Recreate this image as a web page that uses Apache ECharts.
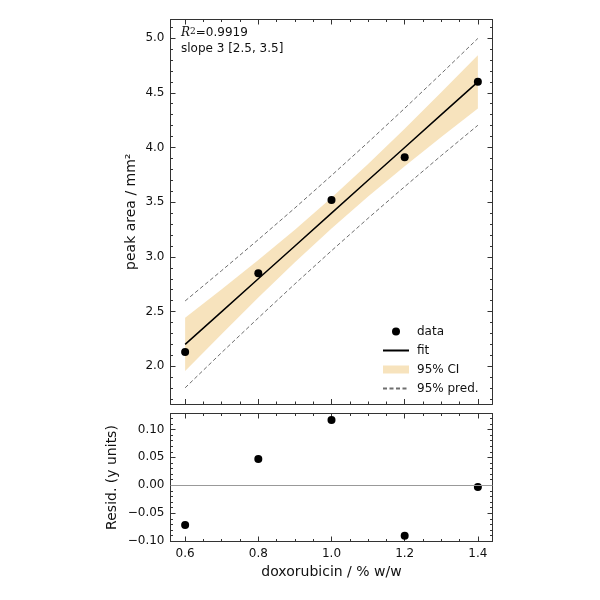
<!DOCTYPE html>
<html>
<head>
<meta charset="utf-8">
<script src="https://cdn.jsdelivr.net/npm/echarts@6/dist/echarts.min.js"></script>
<style>
  html, body { margin: 0; padding: 0; background: #fff; }
  #chart { width: 600px; height: 600px; }
</style>
</head>
<body>
<div id="chart"></div>
<script>
// calibration data
const conc = [0.6, 0.8, 1.0, 1.2, 1.4];
const peakArea = [2.13, 2.85, 3.52, 3.91, 4.60];
const resid = [-0.071, 0.047, 0.117, -0.090, -0.003];

// fit line and bands, sampled at these x values
const bandX = [0.6, 0.7, 0.8, 0.9, 1.0, 1.1, 1.2, 1.3, 1.4];
const fitY = [2.2, 2.5, 2.8, 3.1, 3.4, 3.7, 4.0, 4.3, 4.6];
const ciLow = [1.957, 2.296, 2.628, 2.951, 3.260, 3.551, 3.828, 4.096, 4.357];
const ciHigh = [2.443, 2.705, 2.972, 3.249, 3.540, 3.849, 4.172, 4.505, 4.843];
const predLow = [1.803, 2.126, 2.442, 2.753, 3.056, 3.353, 3.642, 3.926, 4.203];
const predHigh = [2.597, 2.875, 3.158, 3.447, 3.744, 4.047, 4.358, 4.675, 4.997];

// ticks
const xMajor = [0.6, 0.8, 1.0, 1.2, 1.4];
const xMinor = [0.65, 0.7, 0.75, 0.85, 0.9, 0.95, 1.05, 1.1, 1.15, 1.25, 1.3, 1.35];
const yTopMajor = [2.0, 2.5, 3.0, 3.5, 4.0, 4.5, 5.0];
const yTopMinor = [1.7, 1.8, 1.9, 2.1, 2.2, 2.3, 2.4, 2.6, 2.7, 2.8, 2.9, 3.1, 3.2, 3.3, 3.4,
  3.6, 3.7, 3.8, 3.9, 4.1, 4.2, 4.3, 4.4, 4.6, 4.7, 4.8, 4.9, 5.1];
const yResMajor = [-0.10, -0.05, 0.00, 0.05, 0.10];
const yResMinor = [-0.09, -0.08, -0.07, -0.06, -0.04, -0.03, -0.02, -0.01,
  0.01, 0.02, 0.03, 0.04, 0.06, 0.07, 0.08, 0.09, 0.11, 0.12];

const FONT = 'DejaVu Sans';
const INK = '#111';
const SPINE = '#333';
const BAND = '#f7e3bd';
const DASH = '#6e6e6e';

const xRange = [0.56, 1.44];
const yTopRange = [1.655, 5.17];
const yResRange = [-0.1004, 0.1284];

const fmt = (d) => (v) => v.toFixed(d).replace('-', '\u2212');

// one axis = 4 echarts axes: major/minor ticks on both sides
function makeAxes(kind, gridIndex, range, major, minor, opts) {
  const sides = kind === 'x' ? ['bottom', 'top'] : ['left', 'right'];
  const out = [];
  sides.forEach((pos, i) => {
    const main = i === 0;
    out.push({
      type: 'value', gridIndex, position: pos,
      min: range[0], max: range[1],
      name: main ? opts.name : '',
      nameLocation: 'middle',
      nameGap: opts.nameGap,
      nameMoveOverlap: false,
      nameTextStyle: { fontFamily: FONT, fontSize: 14, color: INK },
      axisLine: { show: true, onZero: false, lineStyle: { color: SPINE, width: 1 } },
      axisTick: { show: true, inside: true, length: 5, customValues: major, lineStyle: { color: SPINE, width: 1 } },
      axisLabel: {
        show: main && opts.labels, customValues: major, formatter: fmt(opts.digits),
        fontFamily: FONT, fontSize: 12, color: INK, margin: 6
      },
      splitLine: { show: false }
    });
  });
  sides.forEach((pos) => {
    out.push({
      type: 'value', gridIndex, position: pos,
      min: range[0], max: range[1],
      axisLine: { show: false, onZero: false },
      axisTick: { show: true, inside: true, length: 2.5, customValues: minor, lineStyle: { color: SPINE, width: 1 } },
      axisLabel: { show: false, customValues: minor },
      splitLine: { show: false }
    });
  });
  return out;
}

const xAxes = [].concat(
  makeAxes('x', 0, xRange, xMajor, xMinor, { labels: false, digits: 1 }),
  makeAxes('x', 1, xRange, xMajor, xMinor, { labels: true, digits: 1, name: 'doxorubicin / % w/w', nameGap: 24 })
);
const yAxes = [].concat(
  makeAxes('y', 0, yTopRange, yTopMajor, yTopMinor, { labels: true, digits: 1, name: 'peak area / mm\u00b2', nameGap: 32 }),
  makeAxes('y', 1, yResRange, yResMajor, yResMinor, { labels: true, digits: 2, name: 'Resid. (y units)', nameGap: 51 })
);

const pairs = (xs, ys) => xs.map((x, i) => [x, ys[i]]);
const noDot = { opacity: 0 };

const chart = echarts.init(document.getElementById('chart'));
chart.setOption({
  animation: false,
  backgroundColor: '#fff',
  grid: [
    { left: 170.5, top: 19.5, width: 322, height: 384.5, outerBoundsMode: 'none' },
    { left: 170.5, top: 413.5, width: 322, height: 128, outerBoundsMode: 'none' }
  ],
  xAxis: xAxes,
  yAxis: yAxes,
  legend: {
    orient: 'vertical',
    left: 382, top: 324.5,
    padding: 0,
    itemWidth: 26, itemHeight: 8, itemGap: 5,
    textStyle: { fontFamily: FONT, fontSize: 12, color: INK, lineHeight: 14, padding: [0, 0, 0, 3] },
    data: [
      { name: 'data', icon: 'circle' },
      { name: 'fit', itemStyle: noDot },
      { name: '95% CI', icon: 'rect' },
      { name: '95% pred.', itemStyle: noDot }
    ]
  },
  graphic: [
    {
      type: 'text', left: 181, top: 27,
      style: {
        text: '{r|R}{s|2}{t|=0.9919}',
        rich: {
          r: { fontFamily: 'DejaVu Serif', fontStyle: 'italic', fontSize: 12, fill: INK },
          s: { fontFamily: 'DejaVu Serif', fontSize: 9, fill: INK, verticalAlign: 'top' },
          t: { fontFamily: FONT, fontSize: 12, fill: INK }
        }
      }
    },
    {
      type: 'text', left: 181, top: 43,
      style: { text: 'slope 3 [2.5, 3.5]', fontFamily: FONT, fontSize: 12, fill: INK }
    }
  ],
  series: [
    {
      name: '95% CI', type: 'custom', xAxisIndex: 0, yAxisIndex: 0, z: 1,
      itemStyle: { color: BAND },
      data: [[bandX[0], ciLow[0]]],
      renderItem: function (params, api) {
        const pts = [];
        for (let i = 0; i < bandX.length; i++) pts.push(api.coord([bandX[i], ciHigh[i]]));
        for (let i = bandX.length - 1; i >= 0; i--) pts.push(api.coord([bandX[i], ciLow[i]]));
        return { type: 'polygon', shape: { points: pts }, style: { fill: BAND } };
      }
    },
    {
      name: '95% pred.', type: 'line', xAxisIndex: 0, yAxisIndex: 0, z: 2,
      symbol: 'none', showSymbol: false,
      lineStyle: { color: DASH, width: 1, type: [4, 2.5] },
      itemStyle: { color: DASH },
      data: pairs(bandX, predHigh)
    },
    {
      name: '95% pred.', type: 'line', xAxisIndex: 0, yAxisIndex: 0, z: 2,
      symbol: 'none', showSymbol: false,
      lineStyle: { color: DASH, width: 1, type: [4, 2.5] },
      itemStyle: { color: DASH },
      data: pairs(bandX, predLow)
    },
    {
      name: 'fit', type: 'line', xAxisIndex: 0, yAxisIndex: 0, z: 3,
      symbol: 'none', showSymbol: false,
      lineStyle: { color: '#000', width: 1.5 },
      itemStyle: { color: '#000' },
      data: pairs(bandX, fitY)
    },
    {
      name: 'data', type: 'scatter', xAxisIndex: 0, yAxisIndex: 0, z: 4,
      symbol: 'circle', symbolSize: 8,
      itemStyle: { color: '#000', opacity: 1 },
      data: pairs(conc, peakArea)
    },
    {
      name: 'resid', type: 'scatter', xAxisIndex: 4, yAxisIndex: 4, z: 4,
      symbol: 'circle', symbolSize: 8,
      itemStyle: { color: '#000', opacity: 1 },
      data: pairs(conc, resid),
      markLine: {
        silent: true, symbol: 'none', label: { show: false },
        lineStyle: { color: '#999', width: 1, type: 'solid' },
        data: [{ yAxis: 0 }]
      }
    }
  ]
});
</script>
</body>
</html>
